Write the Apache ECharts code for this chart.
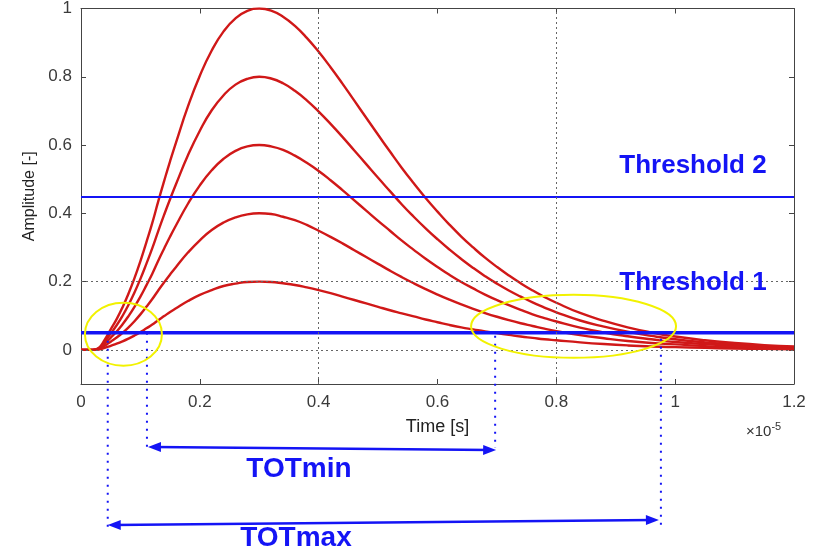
<!DOCTYPE html>
<html>
<head>
<meta charset="utf-8">
<title>TOT</title>
<script src="https://cdn.jsdelivr.net/npm/echarts@6/dist/echarts.min.js"></script>
<style>
  html, body { margin: 0; padding: 0; background: #fff; }
  #newCharts { width: 817px; height: 549px; }
</style>
</head>
<body>
<div id="newCharts"></div>
<script>
// 时间轴 (x 1e-5 s)
const timeList = [0, 0.02, 0.03, 0.04, 0.05, 0.06, 0.07, 0.08, 0.09, 0.10,
  0.11, 0.12, 0.13, 0.14, 0.15, 0.16, 0.18, 0.20, 0.22, 0.24, 0.26, 0.28, 0.30,
  0.32, 0.34, 0.36, 0.38, 0.40, 0.42, 0.44, 0.46, 0.48, 0.50, 0.52, 0.54, 0.56,
  0.58, 0.60, 0.62, 0.64, 0.66, 0.68, 0.70, 0.72, 0.74, 0.76, 0.78, 0.80,
  0.84, 0.88, 0.92, 0.96, 1.00, 1.05, 1.10, 1.15, 1.20];

// 五条脉冲 (峰值 1.0 / 0.8 / 0.6 / 0.4 / 0.2)
const pulse100 = [0, 0, 0.006, 0.03, 0.06, 0.09, 0.125, 0.165, 0.21, 0.26,
  0.315, 0.372, 0.435, 0.495, 0.553, 0.608, 0.713, 0.803, 0.877, 0.933, 0.971, 0.993, 1.0,
  0.994, 0.976, 0.949, 0.914, 0.873, 0.828, 0.780, 0.730, 0.680, 0.630, 0.581, 0.533, 0.488,
  0.445, 0.405, 0.367, 0.332, 0.300, 0.270, 0.243, 0.218, 0.195, 0.174, 0.155, 0.138,
  0.108, 0.085, 0.066, 0.051, 0.039, 0.028, 0.020, 0.014, 0.010];
const pulse80 = [0, 0, 0.005, 0.024, 0.048, 0.072, 0.1, 0.132, 0.168, 0.208,
  0.252, 0.298, 0.348, 0.396, 0.442, 0.486, 0.570, 0.642, 0.702, 0.746, 0.777, 0.794, 0.8,
  0.795, 0.781, 0.759, 0.731, 0.698, 0.662, 0.624, 0.584, 0.544, 0.504, 0.465, 0.426, 0.390,
  0.356, 0.324, 0.294, 0.266, 0.240, 0.216, 0.194, 0.174, 0.156, 0.139, 0.124, 0.110,
  0.086, 0.068, 0.053, 0.041, 0.031, 0.022, 0.016, 0.011, 0.008];
const pulse60 = [0, 0, 0.004, 0.018, 0.036, 0.054, 0.075, 0.099, 0.126, 0.156,
  0.189, 0.223, 0.261, 0.297, 0.332, 0.365, 0.428, 0.482, 0.526, 0.560, 0.583, 0.596, 0.6,
  0.596, 0.586, 0.569, 0.548, 0.524, 0.497, 0.468, 0.438, 0.408, 0.378, 0.349, 0.320, 0.293,
  0.267, 0.243, 0.220, 0.199, 0.180, 0.162, 0.146, 0.131, 0.117, 0.104, 0.093, 0.083,
  0.065, 0.051, 0.040, 0.031, 0.023, 0.017, 0.012, 0.008, 0.006];
const pulse40 = [0, 0, 0.002, 0.012, 0.024, 0.036, 0.05, 0.066, 0.084, 0.104,
  0.126, 0.149, 0.174, 0.198, 0.221, 0.243, 0.285, 0.321, 0.351, 0.373, 0.388, 0.397, 0.4,
  0.398, 0.390, 0.380, 0.366, 0.349, 0.331, 0.312, 0.292, 0.272, 0.252, 0.232, 0.213, 0.195,
  0.178, 0.162, 0.147, 0.133, 0.120, 0.108, 0.097, 0.087, 0.078, 0.070, 0.062, 0.055,
  0.043, 0.034, 0.026, 0.020, 0.016, 0.011, 0.008, 0.006, 0.004];
const pulse20 = [0, 0, 0.001, 0.006, 0.012, 0.018, 0.025, 0.033, 0.042, 0.052,
  0.063, 0.074, 0.087, 0.099, 0.111, 0.122, 0.143, 0.161, 0.175, 0.187, 0.194, 0.199, 0.2,
  0.199, 0.195, 0.190, 0.183, 0.175, 0.166, 0.156, 0.146, 0.136, 0.126, 0.116, 0.107, 0.098,
  0.089, 0.081, 0.073, 0.066, 0.060, 0.054, 0.049, 0.044, 0.039, 0.035, 0.031, 0.028,
  0.022, 0.017, 0.013, 0.010, 0.008, 0.006, 0.004, 0.003, 0.002];

// 阈值
const thresholdList = [0.05, 0.448];
const thresholdNames = ['Threshold 1', 'Threshold 2'];

// 刻度
const xTicks = [0, 0.2, 0.4, 0.6, 0.8, 1, 1.2];
const yTicks = [0, 0.2, 0.4, 0.6, 0.8, 1];
// 只画出来的几条网格线
const gridX = [0.4, 0.8];
const gridY = [0, 0.2];

// TOT 起止时间 (与 Threshold 1 的交点)
const totMin = [0.111, 0.697];
const totMax = [0.045, 0.976];

const red = '#d01818';
const blue = '#1414f5';
const axisColor = '#444';

const chartDom = document.getElementById('newCharts');
const myChart = echarts.init(chartDom);

const pulses = [pulse100, pulse80, pulse60, pulse40, pulse20];

function boxAxis(pos, isX, showLabel) {
  const ax = {
    type: 'value',
    position: pos,
    axisLine: { show: true, onZero: false, lineStyle: { color: axisColor, width: 1 } },
    axisTick: { show: true, inside: true, length: 5, lineStyle: { color: axisColor } },
    axisLabel: { show: showLabel, color: '#3a3a3a', fontSize: 17, fontFamily: 'Liberation Sans, Arial, sans-serif' },
    splitLine: { show: false }
  };
  if (isX) {
    ax.min = 0; ax.max = 1.2; ax.interval = 0.2;
    ax.axisLabel.margin = 10;
  } else {
    ax.min = -0.1; ax.max = 1;
    ax.axisTick.customValues = yTicks;
    ax.axisLabel.customValues = yTicks;
    ax.axisLabel.margin = 9;
  }
  return ax;
}

const series = pulses.map((p, k) => ({
  name: 'pulse' + k,
  type: 'line',
  data: timeList.map((t, i) => [t, p[i]]),
  smooth: true,
  showSymbol: false,
  symbol: 'none',
  lineStyle: { color: red, width: 2.4 },
  z: 3
}));

// 网格虚线
series.push({
  type: 'line',
  data: [],
  markLine: {
    silent: true,
    symbol: 'none',
    label: { show: false },
    lineStyle: { color: '#666', type: [2, 3], width: 1 },
    data: gridX.map(v => ({ xAxis: v })).concat(gridY.map(v => ({ yAxis: v })))
  },
  z: 1
});

// 阈值线
thresholdList.forEach((th, k) => {
  series.push({
    name: thresholdNames[k],
    type: 'line',
    data: [[0, th], [1.2, th]],
    showSymbol: false,
    symbol: 'none',
    lineStyle: { color: blue, width: k === 0 ? 3.5 : 2 },
    z: 4
  });
});

const option = {
  animation: false,
  backgroundColor: '#fff',
  grid: { left: 81, right: 23, top: 8, bottom: 165, containLabel: false },
  xAxis: [
    Object.assign(boxAxis('bottom', true, true), {
      name: 'Time [s]',
      nameLocation: 'middle',
      nameGap: 34,
      nameTextStyle: { color: '#222', fontSize: 18, fontFamily: 'Liberation Sans, Arial, sans-serif' }
    }),
    boxAxis('top', true, false)
  ],
  yAxis: [
    Object.assign(boxAxis('left', false, true), {
      name: 'Amplitude [-]',
      nameLocation: 'middle',
      nameGap: 43,
      nameTextStyle: { color: '#222', fontSize: 16, fontFamily: 'Liberation Sans, Arial, sans-serif' }
    }),
    boxAxis('right', false, false)
  ],
  series: series
};
myChart.setOption(option);

// ---------- 标注 ----------
const px = (x, y) => myChart.convertToPixel({ xAxisIndex: 0, yAxisIndex: 0 }, [x, y]);

function arrow(x1, y1, x2, y2) {
  const dx = x2 - x1, dy = y2 - y1;
  const len = Math.sqrt(dx * dx + dy * dy);
  const ux = dx / len, uy = dy / len;
  const hl = 13, hw = 5;
  const head = (tx, ty, sx, sy) => ({
    type: 'polygon',
    shape: { points: [[tx, ty], [tx - sx * hl - sy * hw, ty - sy * hl + sx * hw], [tx - sx * hl + sy * hw, ty - sy * hl - sx * hw]] },
    style: { fill: blue },
    z: 20
  });
  return [
    { type: 'line', shape: { x1: x1 + ux * 6, y1: y1 + uy * 6, x2: x2 - ux * 6, y2: y2 - uy * 6 }, style: { stroke: blue, lineWidth: 2.4 }, z: 20 },
    head(x2, y2, ux, uy),
    head(x1, y1, -ux, -uy)
  ];
}

function dotted(x, y1, y2) {
  return { type: 'line', shape: { x1: x, y1: y1, x2: x, y2: y2 }, style: { stroke: blue, lineWidth: 2, lineDash: [2, 6] }, z: 20 };
}

const th1Y = px(0, thresholdList[0])[1];
const th2Y = px(0, thresholdList[1])[1];
const xMin0 = px(totMin[0], 0)[0], xMin1 = px(totMin[1], 0)[0];
const xMax0 = px(totMax[0], 0)[0], xMax1 = px(totMax[1], 0)[0];

const graphics = [];
graphics.push(dotted(xMax0, th1Y, 528));
graphics.push(dotted(xMin0, th1Y, 448));
graphics.push(dotted(xMin1, th1Y + 3, 448));
graphics.push(dotted(xMax1, th1Y + 6, 526));
graphics.push(...arrow(xMin0 + 1, 447, xMin1 + 1, 450));
graphics.push(...arrow(xMax0, 525, xMax1 - 2, 520));

// 黄色椭圆
const e1 = px(0.0714, 0.0456);
const e2 = px(0.829, 0.069);
graphics.push({ type: 'ellipse', shape: { cx: e1[0], cy: e1[1], rx: 38.5, ry: 31.5 }, style: { fill: 'none', stroke: '#f2f200', lineWidth: 2 }, z: 30 });
graphics.push({ type: 'ellipse', shape: { cx: e2[0], cy: e2[1], rx: 102.5, ry: 31.5 }, style: { fill: 'none', stroke: '#f2f200', lineWidth: 2 }, z: 30 });

const bigFont = 'bold 26px "Liberation Sans", Arial, sans-serif';
graphics.push({ type: 'text', x: 693, y: th2Y - 31, style: { text: thresholdNames[1], font: bigFont, fill: blue, align: 'center', verticalAlign: 'middle' }, z: 25 });
graphics.push({ type: 'text', x: 693, y: th1Y - 50, style: { text: thresholdNames[0], font: bigFont, fill: blue, align: 'center', verticalAlign: 'middle' }, z: 25 });
graphics.push({ type: 'text', x: 299, y: 469, style: { text: 'TOTmin', font: 'bold 28px "Liberation Sans", Arial, sans-serif', fill: blue, align: 'center', verticalAlign: 'middle' }, z: 25 });
graphics.push({ type: 'text', x: 296, y: 538, style: { text: 'TOTmax', font: 'bold 28px "Liberation Sans", Arial, sans-serif', fill: blue, align: 'center', verticalAlign: 'middle' }, z: 25 });

// x 轴的指数 ×10^-5
graphics.push({
  type: 'text', x: 746, y: 432,
  style: {
    text: '{a|×10}{b|-5}',
    rich: {
      a: { fontSize: 15, fill: '#333', fontFamily: 'Liberation Sans, Arial, sans-serif' },
      b: { fontSize: 11, fill: '#333', fontFamily: 'Liberation Sans, Arial, sans-serif', verticalAlign: 'top', padding: [0, 0, 10, 0] }
    },
    verticalAlign: 'middle'
  },
  z: 25
});

myChart.setOption({ graphic: graphics });
</script>
</body>
</html>
